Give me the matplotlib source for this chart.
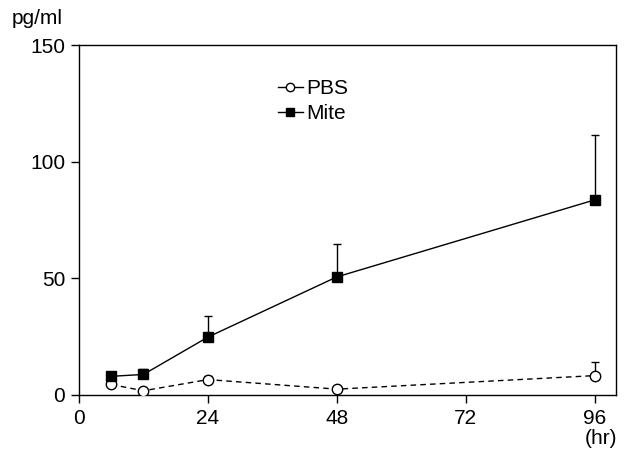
import matplotlib
matplotlib.use("Agg")
import matplotlib.pyplot as plt

hours = [6, 12, 24, 48, 96]
pbs = [4.5, 1.8, 6.6, 2.5, 8.3]
pbs_err = [0.8, 0.5, 1.5, 0.5, 6.0]
mite = [8.0, 8.8, 24.8, 50.6, 83.6]
mite_err = [1.0, 2.5, 9.0, 14.0, 28.0]

xticks = [0, 24, 48, 72, 96]
yticks = [0, 50, 100, 150]

plt.rcParams['font.family'] = ['Liberation Sans', 'DejaVu Sans']
fig = plt.figure(figsize=(6.3, 4.57), dpi=100)
ax = fig.add_axes([0.1254, 0.1357, 0.9778 - 0.1254, 0.9015 - 0.1357])

ax.errorbar(hours, mite, yerr=[[0]*len(mite), mite_err], fmt='none', ecolor='black',
            elinewidth=1, capsize=3, capthick=1, zorder=2)
ax.errorbar(hours, pbs, yerr=[[0]*len(pbs), pbs_err], fmt='none', ecolor='black',
            elinewidth=1, capsize=3, capthick=1, zorder=2)
ax.plot(hours, pbs, color='black', linestyle=(0, (4, 3)), linewidth=1, marker='o',
        markersize=7.5, markerfacecolor='white', markeredgecolor='black', markeredgewidth=1,
        label='PBS', zorder=3)
ax.plot(hours, mite, color='black', linestyle='-', linewidth=1, marker='s',
        markersize=7.5, markerfacecolor='black', markeredgecolor='black',
        label='Mite', zorder=4)

ax.set_xlim(0, 100)
ax.set_ylim(0, 150)
ax.set_xticks(xticks)
ax.set_yticks(yticks)
ax.tick_params(direction='out', length=6, width=1, labelsize=15, pad=4)
for s in ax.spines.values():
    s.set_linewidth(1)

h1, = ax.plot([], [], color='black', linestyle='-', linewidth=1, marker='o', markersize=6,
              markerfacecolor='white', markeredgecolor='black')
h2, = ax.plot([], [], color='black', linestyle='-', linewidth=1, marker='s', markersize=5.5,
              markerfacecolor='black', markeredgecolor='black')
ax.legend([h1, h2], ['PBS', 'Mite'], loc='upper left', bbox_to_anchor=(0.351, 0.932),
          frameon=False, fontsize=15, handlelength=1.2, handletextpad=0.15,
          labelspacing=0.28, borderpad=0)

fig.text(12/630, 1 - 19/457, 'pg/ml', fontsize=15, va='center', ha='left')
fig.text(585/630, 1 - 438/457, '(hr)', fontsize=15, va='center', ha='left')

fig.savefig('out.png', dpi=100)
